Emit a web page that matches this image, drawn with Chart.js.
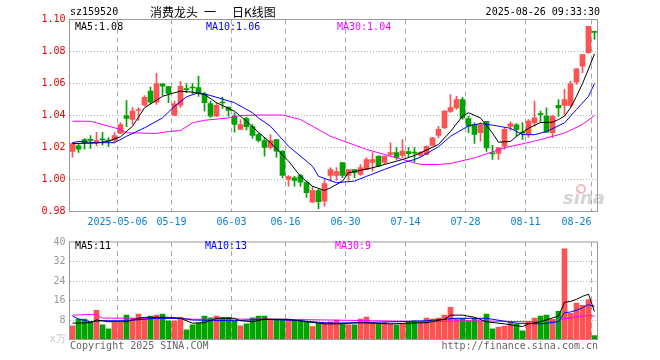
<!DOCTYPE html>
<html>
<head>
<meta charset="utf-8">
<script src="https://cdn.jsdelivr.net/npm/chart.js@4.4.1/dist/chart.umd.min.js"></script>
<style>
html, body { margin: 0; padding: 0; background: #fff; }
#wrap { position: relative; width: 660px; height: 360px; }
#price { position: absolute; left: 0; top: 0; }
#vol { position: absolute; left: 0; top: 232px; }
</style>
</head>
<body>
<div id="wrap">
  <canvas id="price" width="660" height="232"></canvas>
  <canvas id="vol" width="660" height="128"></canvas>
</div>
<script>
// trading days, 2025
const dates = ["04-21","04-22","04-23","04-24","04-25","04-28","04-29","04-30","05-06","05-07",
  "05-08","05-09","05-12","05-13","05-14","05-15","05-16","05-19","05-20","05-21",
  "05-22","05-23","05-26","05-27","05-28","05-29","05-30","06-03","06-04","06-05",
  "06-06","06-09","06-10","06-11","06-12","06-13","06-16","06-17","06-18","06-19",
  "06-20","06-23","06-24","06-25","06-26","06-27","06-30","07-01","07-02","07-03",
  "07-04","07-07","07-08","07-09","07-10","07-11","07-14","07-15","07-16","07-17",
  "07-18","07-21","07-22","07-23","07-24","07-25","07-28","07-29","07-30","07-31",
  "08-01","08-04","08-05","08-06","08-07","08-08","08-11","08-12","08-13","08-14",
  "08-15","08-18","08-19","08-20","08-21","08-22","08-25","08-26"];

const gridDays = ["05-06","05-19","06-03","06-16","06-30","07-14","07-28","08-11","08-26"];

const opens = [1.0175,1.021,1.025,1.025,1.023,1.0252,1.0242,1.0244,1.0288,1.0400,
  1.0375,1.0431,1.0464,1.0552,1.0483,1.0598,1.058,1.040,1.0464,1.0563,
  1.0575,1.0575,1.0535,1.0475,1.0396,1.048,1.0452,1.0396,1.0313,1.038,
  1.0331,1.028,1.0244,1.020,1.025,1.0177,1.000,1.001,1.0025,0.998,
  0.9858,0.9931,0.9864,1.0025,1.0025,1.0106,1.0025,1.0062,1.0031,1.0062,
  1.0106,1.0146,1.0106,1.0156,1.0169,1.015,1.0175,1.0168,1.015,1.0156,
  1.0213,1.0275,1.0323,1.0425,1.0448,1.050,1.0381,1.0344,1.0292,1.0364,
  1.0163,1.0163,1.0208,1.0331,1.0342,1.0293,1.0281,1.0354,1.0408,1.0396,
  1.0292,1.0463,1.0463,1.0463,1.0608,1.0708,1.0792,1.0922];
const closes = [1.0225,1.019,1.023,1.0245,1.0245,1.0248,1.024,1.0275,1.0344,1.0381,
  1.0427,1.0432,1.0514,1.0483,1.060,1.0583,1.0538,1.0473,1.0583,1.0562,
  1.0572,1.0542,1.048,1.0396,1.0463,1.0478,1.0431,1.0344,1.0344,1.033,
  1.0275,1.0244,1.020,1.0244,1.0177,1.0025,1.0019,0.9994,0.9983,0.9917,
  0.9931,0.9862,0.9975,1.0062,1.005,1.0025,1.0062,1.0042,1.0075,1.0125,
  1.0125,1.0083,1.0146,1.0168,1.0138,1.0177,1.0162,1.0165,1.0168,1.0208,
  1.026,1.0313,1.0427,1.045,1.050,1.0385,1.0333,1.0281,1.0344,1.0198,
  1.016,1.020,1.0313,1.0348,1.0313,1.029,1.0365,1.0385,1.0405,1.0296,
  1.0396,1.0448,1.050,1.0598,1.0692,1.0781,1.0958,1.092];
const highs = [1.023,1.0225,1.0256,1.0275,1.0295,1.0295,1.0262,1.0295,1.0355,1.0494,
  1.045,1.045,1.0525,1.0577,1.0663,1.060,1.058,1.049,1.0613,1.060,
  1.060,1.0646,1.0545,1.049,1.0481,1.0514,1.0452,1.0417,1.0375,1.039,
  1.0344,1.029,1.0263,1.028,1.025,1.018,1.0025,1.002,1.0031,0.999,
  0.9955,0.994,1.000,1.0075,1.0075,1.0106,1.0062,1.0062,1.0094,1.0137,
  1.0169,1.0146,1.0146,1.0229,1.020,1.025,1.020,1.020,1.0175,1.021,
  1.0263,1.0333,1.043,1.0531,1.052,1.0513,1.0396,1.0354,1.0358,1.0364,
  1.0213,1.020,1.0325,1.036,1.035,1.0356,1.0375,1.049,1.0427,1.0448,
  1.040,1.050,1.0563,1.0615,1.0694,1.0781,1.0958,1.0927];
const lows = [1.014,1.017,1.019,1.0195,1.021,1.0215,1.0206,1.023,1.0288,1.033,
  1.0344,1.037,1.0458,1.0473,1.047,1.0525,1.048,1.040,1.045,1.0542,
  1.0537,1.052,1.0427,1.0388,1.0394,1.0444,1.0396,1.0296,1.0313,1.031,
  1.0256,1.0235,1.0146,1.019,1.0138,1.001,0.9958,0.9958,0.9956,0.9888,
  0.9856,0.9818,0.9833,0.999,0.9995,1.0012,0.9995,1.0012,1.0025,1.0062,
  1.0052,1.0081,1.0094,1.0146,1.0125,1.0137,1.0144,1.0112,1.0144,1.0156,
  1.0213,1.026,1.032,1.0419,1.0438,1.0375,1.0292,1.0225,1.024,1.0175,
  1.0125,1.0125,1.0188,1.0306,1.027,1.025,1.0263,1.0333,1.0356,1.0292,
  1.0261,1.0396,1.0406,1.0454,1.0594,1.0667,1.0788,1.0875];

// volume, x万
const volumes = [5.6,8.4,8.4,7.3,12,6,4.4,6.9,6.9,10,
  8.7,10.4,8.7,9.6,10,10.4,7.7,7.7,9.1,4,
  6,6.7,9.6,8.9,9.6,9.1,9.1,7.7,5.6,6.4,
  8.9,9.6,9.6,8.4,8,8,8,8,7.7,7.3,
  5.3,6.7,6.7,7.3,8,6.7,6,6,8.4,9.2,
  6.9,6.4,6.9,6.4,6,6.4,7.3,7.7,7.3,8.8,
  8.4,8.8,10,13.2,8.7,8.7,7.7,8.7,7.7,10.4,
  4.4,5.1,5.5,7.3,6.4,3.6,7.3,8.8,9.6,10,
  8.3,11.6,37.2,10.7,14.9,14,16.4,1.6];

// moving averages: [day index, value]
const ma5 = [[0,1.0225],[4,1.0228],[6,1.024],[8,1.0267],[10,1.0333],[12,1.0448],[15,1.052],[17,1.0542],
  [18,1.0552],[20,1.0546],[22,1.0531],[24,1.048],[27,1.0427],[29,1.0364],[31,1.0295],[33,1.023],
  [36,1.0115],[38,1.002],[40,0.9958],[42,0.9931],[43,0.9948],[45,0.999],[46,1.0042],[50,1.0073],
  [52,1.0094],[55,1.0125],[57,1.015],[61,1.0219],[63,1.030],[65,1.0396],[66,1.0417],[68,1.0385],
  [70,1.029],[71,1.0233],[73,1.0238],[74,1.027],[76,1.032],[78,1.0356],[80,1.0358],[81,1.0375],
  [82,1.0396],[83,1.0448],[84,1.052],[85,1.060],[86,1.069],[87,1.0785]];
const ma10 = [[0,1.023],[1,1.0238],[4,1.023],[7,1.023],[9,1.027],[12,1.0323],[15,1.0385],[17,1.0458],
  [19,1.0517],[21,1.0542],[23,1.0525],[27,1.048],[30,1.0417],[31,1.0385],[33,1.0333],[36,1.0208],
  [40,1.0083],[41,1.002],[44,0.998],[47,0.999],[49,1.002],[52,1.0063],[55,1.0104],[57,1.0125],
  [58,1.014],[61,1.0205],[63,1.027],[66,1.0335],[68,1.035],[70,1.034],[73,1.032],[75,1.028],
  [77,1.028],[79,1.030],[82,1.0354],[84,1.0438],[86,1.052],[87,1.06]];
const ma30 = [[0,1.0364],[3,1.0364],[4,1.0354],[6,1.0333],[8,1.0313],[9,1.0292],[14,1.0288],[16,1.030],
  [18,1.0306],[20,1.0354],[22,1.037],[26,1.0385],[28,1.040],[31,1.0403],[35,1.0403],[38,1.0375],
  [43,1.027],[49,1.0188],[53,1.0146],[56,1.0115],[58,1.0094],[61,1.0094],[63,1.010],[67,1.0135],
  [72,1.0198],[77,1.024],[82,1.029],[85,1.0344],[87,1.04]];

const vma5 = [[0,6.7],[3,6.9],[4,8],[6,7.3],[9,7.3],[11,8.7],[12,9.1],[16,9.1],[18,8.7],[20,6.7],
  [22,6.9],[24,8.7],[27,8.7],[28,7.7],[30,7.3],[32,8.3],[36,8.3],[39,7.3],[42,6.4],[44,6.4],
  [48,6.9],[53,6.4],[56,6.7],[59,6.9],[62,8.3],[63,10],[65,10],[67,9.1],[69,7.3],[72,6.4],
  [75,5.3],[76,6.4],[78,7.3],[81,9.6],[82,15.3],[83,15.6],[84,16.5],[85,17.7],[86,18.6],[87,11.5]];
const vma10 = [[0,9.6],[1,8.4],[3,7.3],[5,7.7],[9,7.7],[14,8.7],[18,8.7],[20,8],[27,7.7],[32,8.3],
  [38,7.7],[42,6.9],[44,6.7],[54,7.3],[59,7.7],[64,8.7],[69,8.7],[74,6.7],[78,6.4],[81,7.3],
  [82,11],[83,11.3],[84,12],[85,13],[86,14.3],[87,13.6]];
const vma30 = [[0,10],[3,10.3],[4,10.3],[5,8.8],[10,8.7],[18,8.7],[20,8.3],[32,8.4],[43,8],[50,7.7],
  [60,7.3],[65,7.7],[76,7.3],[81,7.5],[82,8.6],[86,9.9],[87,9.6]];

const MONO = '"DejaVu Sans Mono", monospace';
const CJK = '"Noto Sans CJK SC", sans-serif';
const RED = '#ff5252', GREEN = '#00a400';
const candleColor = closes.map((c, i) => c >= opens[i] ? RED : GREEN);
const gridIdx = gridDays.map(d => dates.indexOf(d));

function pts(list) {
  return list.map(p => ({ x: dates[p[0]], y: p[1] }));
}
function maLine(list, color) {
  return { type: 'line', data: pts(list), borderColor: color, borderWidth: 1,
    pointRadius: 0, tension: 0, order: 0 };
}

const xGrid = {
  offset: true,
  drawTicks: false,
  lineWidth: 1,
  color: ctx => gridIdx.includes(ctx.index) ? '#a8a8a8' : 'rgba(0,0,0,0)'
};

// frame + texts
const frame = {
  id: 'frame',
  afterDraw(chart) {
    const a = chart.chartArea, c = chart.ctx;
    c.save();
    c.strokeStyle = '#999';
    c.lineWidth = 1;
    c.strokeRect(a.left, a.top, a.right - a.left, a.bottom - a.top);
    c.restore();
  }
};

function txt(c, s, x, y, color, font, align) {
  c.fillStyle = color;
  c.font = font;
  c.textAlign = align || 'left';
  c.textBaseline = 'middle';
  c.fillText(s, x, y);
}

const priceText = {
  id: 'priceText',
  beforeDatasetsDraw(chart) {
    const c = chart.ctx;
    c.save();
    c.fillStyle = '#d4d4d4';
    c.font = 'italic bold 18px "DejaVu Sans"';
    c.textAlign = 'left';
    c.textBaseline = 'alphabetic';
    c.fillText('sina', 563, 204);
    c.strokeStyle = '#f2bcbc';
    c.lineWidth = 2;
    c.beginPath();
    c.arc(581, 189, 4, 0, Math.PI * 2);
    c.stroke();
    c.restore();
  },
  afterDraw(chart) {
    const c = chart.ctx;
    c.save();
    const f = '10px ' + MONO;
    txt(c, 'sz159520', 70, 12.5, '#000', f);
    txt(c, '消费龙头', 150, 12.5, '#000', '12px ' + CJK);
    txt(c, '一', 204, 12.5, '#000', '12px ' + CJK);
    txt(c, '日K线图', 232, 12.5, '#000', '12px ' + CJK);
    txt(c, '2025-08-26 09:33:30', 600, 12.5, '#000', f, 'right');
    txt(c, 'MA5:1.08', 75, 27, '#000', f);
    txt(c, 'MA10:1.06', 206, 27, '#0000ff', f);
    txt(c, 'MA30:1.04', 337, 27, '#ff00ff', f);
    c.restore();
  }
};

const volText = {
  id: 'volText',
  afterDraw(chart) {
    const c = chart.ctx;
    c.save();
    const f = '10px ' + MONO;
    txt(c, 'MA5:11', 75, 14, '#000', f);
    txt(c, 'MA10:13', 205, 14, '#0000ff', f);
    txt(c, 'MA30:9', 335, 14, '#ff00ff', f);
    txt(c, 'Copyright 2025 SINA.COM', 70, 114, '#666', f);
    txt(c, 'http://finance.sina.com.cn', 598, 114, '#666', f, 'right');
    c.restore();
  }
};

Chart.defaults.font.family = MONO;
Chart.defaults.font.size = 10;

new Chart(document.getElementById('price'), {
  data: {
    labels: dates,
    datasets: [
      maLine(ma5, '#000'),
      maLine(ma10, '#0000ff'),
      maLine(ma30, '#ff00ff'),
      { type: 'bar', data: dates.map((d, i) => [opens[i], closes[i]]),
        backgroundColor: candleColor, barThickness: 5, minBarLength: 1,
        grouped: false, order: 1 },
      { type: 'bar', data: dates.map((d, i) => [lows[i], highs[i]]),
        backgroundColor: candleColor, barThickness: 1,
        grouped: false, order: 2 }
    ]
  },
  options: {
    responsive: false,
    animation: false,
    layout: { padding: { left: 0, top: 19.5, right: 62.5, bottom: 0 } },
    plugins: { legend: { display: false }, tooltip: { enabled: false } },
    scales: {
      x: {
        offset: true,
        grid: xGrid,
        border: { display: false, dash: [5, 4] },
        ticks: {
          autoSkip: false, maxRotation: 0, padding: 5, labelOffset: -3, align: 'inner',
          color: '#0a80d0', font: { family: MONO, size: 10 },
          callback: (v, i) => gridIdx.includes(i) ? (dates[i] === '05-06' ? '2025-' + dates[i] : dates[i]) : ''
        },
        afterFit: s => { s.height = 20.5; }
      },
      y: {
        min: 0.98, max: 1.10,
        ticks: { stepSize: 0.02, padding: 4, color: '#e60000', font: { family: MONO, size: 10 },
          callback: v => v.toFixed(2) },
        grid: { drawTicks: false, color: ctx => (ctx.index === 0 || ctx.index === 6) ? 'rgba(0,0,0,0)' : '#b4b4b4' },
        border: { display: false, dash: [1, 2] },
        afterFit: s => { s.width = 69.5; }
      }
    }
  },
  plugins: [frame, priceText]
});

new Chart(document.getElementById('vol'), {
  data: {
    labels: dates,
    datasets: [
      maLine(vma5, '#000'),
      maLine(vma10, '#0000ff'),
      maLine(vma30, '#ff00ff'),
      { type: 'bar', data: volumes, backgroundColor: candleColor, barThickness: 5, order: 1 }
    ]
  },
  options: {
    responsive: false,
    animation: false,
    layout: { padding: { left: 0, top: 7.5, right: 62.5, bottom: 20.5 } },
    plugins: { legend: { display: false }, tooltip: { enabled: false } },
    scales: {
      x: {
        offset: true,
        grid: xGrid,
        border: { display: false, dash: [5, 4] },
        ticks: { display: false },
        afterFit: s => { s.height = 0; }
      },
      y: {
        min: 0, max: 40,
        ticks: { stepSize: 8, padding: 4, font: { family: MONO, size: 10 },
          color: ctx => ctx.index === 0 ? '#c8c8c8' : '#999',
          callback: v => v === 0 ? 'x万' : v },
        grid: { drawTicks: false, color: ctx => (ctx.index === 0 || ctx.index === 5) ? 'rgba(0,0,0,0)' : '#b4b4b4' },
        border: { display: false, dash: [1, 2] },
        afterFit: s => { s.width = 69.5; }
      }
    }
  },
  plugins: [frame, volText]
});
</script>
</body>
</html>
